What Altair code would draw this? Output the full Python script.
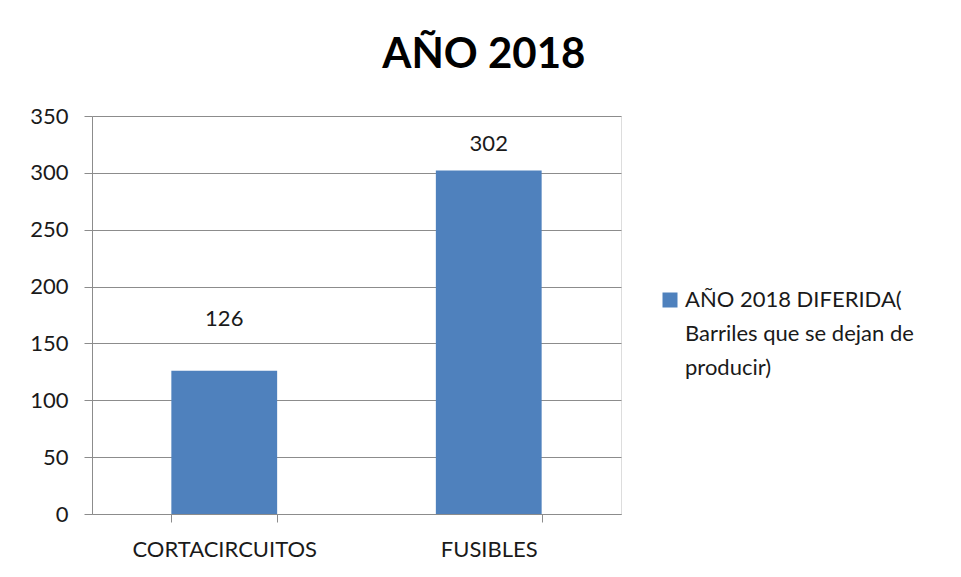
import altair as alt
import pandas as pd

categories = ["CORTACIRCUITOS", "FUSIBLES"]
values = [126, 302]
series_label = "AÑO 2018 DIFERIDA(\nBarriles que se dejan de\nproducir)"
y_ticks = [0, 50, 100, 150, 200, 250, 300, 350]
title_text = "AÑO 2018"

df = pd.DataFrame({
    "categoria": categories,
    "valor": values,
    "serie": [series_label] * len(categories),
})

FONT = "Lato"
GRID = "#8C8C8C"
BLUE = "#4F81BD"
TXT = "#1a1a1a"

x_enc = alt.X(
    "categoria:N", sort=categories, title=None,
    scale=alt.Scale(paddingInner=0.6, paddingOuter=0.3),
    axis=alt.Axis(labelAngle=0, tickBand="extent", tickSize=8, labelPadding=17,
                  labelFontSize=22, labelFont=FONT, labelColor=TXT, labelLimit=400,
                  domainColor=GRID, tickColor=GRID, grid=False),
)
y_enc = alt.Y(
    "valor:Q", title=None,
    scale=alt.Scale(domain=[0, 350], nice=False),
    axis=alt.Axis(values=y_ticks, tickSize=8, labelPadding=16,
                  labelFontSize=22, labelFont=FONT, labelColor=TXT,
                  domainColor=GRID, tickColor=GRID, grid=True, gridColor=GRID),
)

bars = alt.Chart(df).mark_bar().encode(
    x=x_enc,
    y=y_enc,
    color=alt.Color(
        "serie:N",
        scale=alt.Scale(range=[BLUE]),
        legend=alt.Legend(
            title=None, orient="none", legendX=567, legendY=173,
            symbolType="square", symbolSize=225, symbolStrokeWidth=0,
            labelFont=FONT, labelFontSize=22, labelColor=TXT, labelLimit=400,
            labelOffset=4, labelExpr="split(datum.label, '\\n')",
        ),
    ),
)

lab_base = alt.Chart(df).encode(
    x=alt.X("categoria:N", sort=categories),
    y=alt.Y("valor:Q"),
    text=alt.Text("valor:Q"),
)
lab1 = lab_base.transform_filter(alt.datum.categoria == categories[0]).mark_text(
    font=FONT, fontSize=22, color=TXT, baseline="middle", dy=-52)
lab2 = lab_base.transform_filter(alt.datum.categoria == categories[1]).mark_text(
    font=FONT, fontSize=22, color=TXT, baseline="middle", dy=-27)

chart = (
    alt.layer(bars, lab1, lab2)
    .properties(
        width=529, height=398,
        title=alt.Title(title_text, font=FONT, fontSize=42, fontWeight="bold",
                        anchor="middle", frame="bounds", offset=28, dx=12, color="#000"),
        padding={"left": 21, "top": 26, "right": 5, "bottom": 5},
        background="white",
    )
    .configure_view(strokeWidth=0)
    .configure(style={"guide-label": {"lineHeight": 34}})
)

chart.save("out.html", embed_options={"renderer": "svg", "actions": False})
